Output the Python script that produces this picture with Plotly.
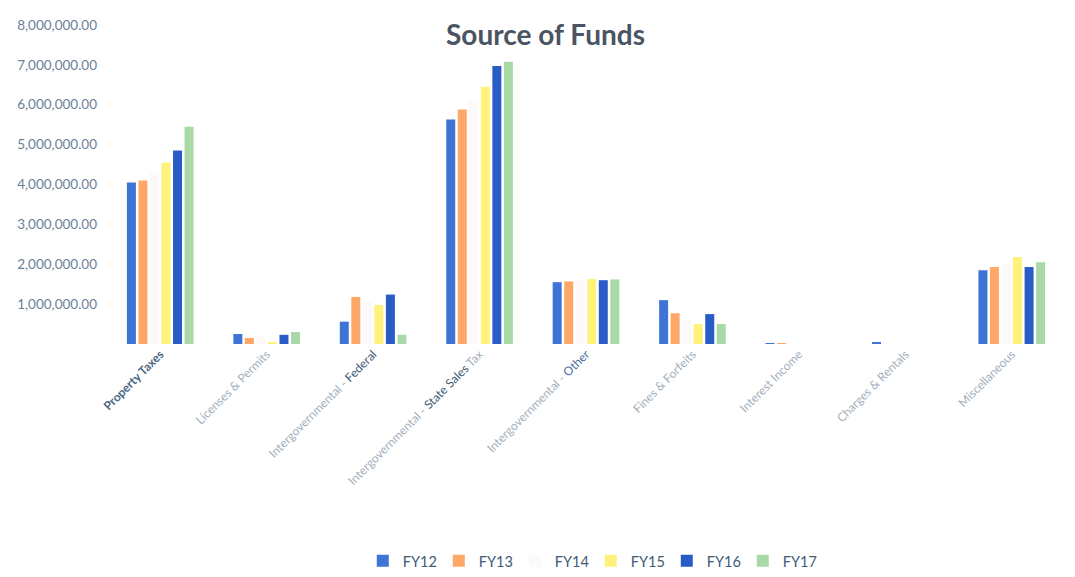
import plotly.graph_objects as go

categories = [
    "<b style='color:#4a6684'>Property Taxes</b>",
    "Licenses & Permits",
    "Intergovernmental - <span style='color:#3e5a78'>Federal</span>",
    "Intergovernmental - <span style='color:#3e5a78'>State Sales</span> Tax",
    "Intergovernmental - <span style='color:#4a6fa0'>Other</span>",
    "Fines & Forfeits",
    "Interest Income",
    "Charges & Rentals",
    "Miscellaneous",
]

fy12 = [4050000, 250000, 560000, 5630000, 1550000, 1100000, 20000, 50000, 1850000]
fy13 = [4100000, 150000, 1180000, 5880000, 1570000, 770000, 10000, 0, 1930000]
fy14 = [4300000, 200000, 1050000, 6100000, 1600000, 600000, 0, 0, 2000000]
fy15 = [4550000, 50000, 980000, 6450000, 1630000, 500000, 0, 0, 2180000]
fy16 = [4850000, 230000, 1240000, 6970000, 1600000, 750000, 0, 0, 1930000]
fy17 = [5450000, 300000, 230000, 7080000, 1620000, 500000, 0, 0, 2050000]

series = [("FY12", fy12, "#3d74d6"), ("FY13", fy13, "#ffa766"), ("FY14", fy14, "#fcf9f9"),
          ("FY15", fy15, "#fff27a"), ("FY16", fy16, "#2a5cc8"), ("FY17", fy17, "#a9d9a6")]

tick_vals = [1e6, 2e6, 3e6, 4e6, 5e6, 6e6, 7e6, 8e6]

fig = go.Figure()
for name, vals, col in series:
    fig.add_trace(go.Bar(name=name, x=categories, y=vals, marker_color=col, marker_line_width=0))

fig.update_layout(
    width=1075, height=577,
    paper_bgcolor="white", plot_bgcolor="white",
    margin=dict(l=94, r=18, t=9, b=240),
    barmode="group", bargap=0.35, bargroupgap=0.22,
    title=dict(text="<b>Source of Funds</b>", x=0.5, xanchor="center", y=0.953, yanchor="middle",
               font=dict(family="Lato, Open Sans, sans-serif", size=28, color="#4a5462")),
    font=dict(family="Lato, Open Sans, sans-serif", color="#5c7391"),
    legend=dict(orientation="h", x=0.505, xanchor="center", y=-0.68, yanchor="middle",
                font=dict(size=14.5, color="#3e5a78"), itemwidth=30,
                entrywidth=31, entrywidthmode="pixels"),
    showlegend=True,
)
fig.update_yaxes(range=[0, 8e6], tickvals=tick_vals, tickformat=",.2f", showgrid=False,
                 zeroline=False, showline=False, ticklabelstandoff=9,
                 tickfont=dict(size=13.5, color="#6a7f98"))
fig.update_xaxes(tickangle=-45, showline=False, tickfont=dict(size=12, color="#a3afbb"),
                 automargin=False)

fig.write_html("out.html")
